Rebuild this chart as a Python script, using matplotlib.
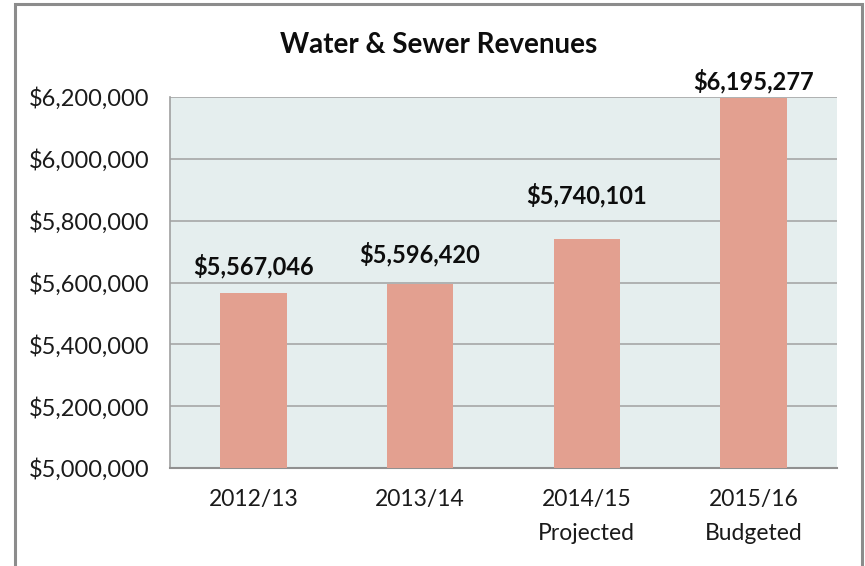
import matplotlib
matplotlib.use("Agg")
import matplotlib.pyplot as plt
from matplotlib.patches import Rectangle
from matplotlib.ticker import FuncFormatter

categories = ["2012/13", "2013/14", "2014/15\nProjected", "2015/16\nBudgeted"]
revenues = [5567046, 5596420, 5740101, 6195277]
label_offsets_px = [27, 29, 44, 17]

plt.rcParams['font.family'] = ['Lato', 'DejaVu Sans']

fig = plt.figure(figsize=(8.65, 5.66), dpi=100)
fig.patch.set_facecolor('white')
ax = fig.add_axes([170/865, 98/566, 667/865, 371/566])
ax.set_facecolor('#E5EEEE')

x = range(len(categories))
ax.bar(x, revenues, width=0.4, color='#E3A090', zorder=3)
ax.set_xlim(-0.5, len(categories) - 0.5)
ax.set_ylim(5000000, 6200000)
ax.set_yticks(range(5000000, 6200001, 200000))
ax.yaxis.set_major_formatter(FuncFormatter(lambda v, p: f"${v:,.0f}"))
ax.grid(axis='y', color='#A6A6A6', linewidth=1.2, zorder=0)
ax.set_xticks(list(x))
ax.set_xticklabels(categories, fontsize=16.5, color='#1a1a1a', linespacing=1.8)
ax.tick_params(axis='x', length=0, pad=15)
ax.tick_params(axis='y', length=0, pad=15, labelsize=17, labelcolor='#1a1a1a')
for s in ['top', 'right']:
    ax.spines[s].set_visible(False)
ax.spines['left'].set_color('#A0A0A0')
ax.spines['bottom'].set_color('#909090')
ax.spines['left'].set_linewidth(1.2)
ax.spines['bottom'].set_linewidth(1.5)

for xi, v, off in zip(x, revenues, label_offsets_px):
    ax.annotate(f"${v:,.0f}", (xi, v), xytext=(0, off), textcoords='offset pixels',
                ha='center', va='center', fontsize=17, fontweight='bold', color='#0d0d0d')

fig.text(439/865, 1 - 45/566, "Water & Sewer Revenues", ha='center', va='center',
         fontsize=20, fontweight='bold', color='#0d0d0d')

fig.patches.append(Rectangle((15/865, -0.05), (862-15)/865, 1.05 - 4/566,
                             transform=fig.transFigure, fill=False,
                             edgecolor='#8C8C8C', linewidth=2.2))

fig.savefig("out.png", dpi=100)
